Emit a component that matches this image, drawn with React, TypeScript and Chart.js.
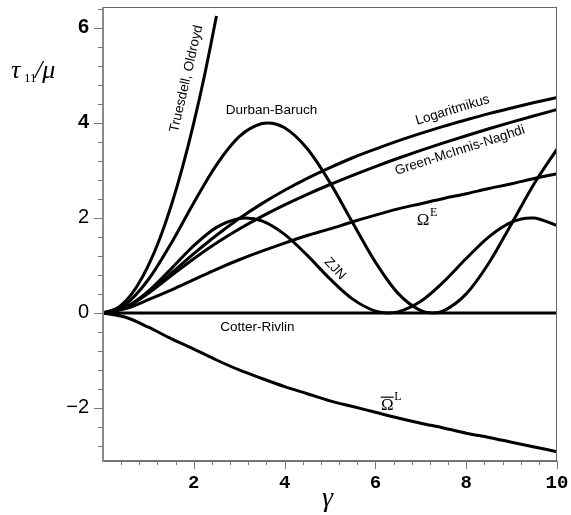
import React, { useEffect, useRef } from 'react';
import { Chart, registerables } from 'chart.js';

Chart.register(...registerables);

// ---- data ----
const gammaHalf = [0, 0.5, 1, 1.5, 2, 2.5, 3, 3.5, 4, 4.5, 5, 5.5, 6, 6.5, 7, 7.5, 8, 8.5, 9, 9.5, 10];
const logValues = [0, 0.12, 0.43, 0.832, 1.247, 1.636, 1.988, 2.301, 2.582, 2.833, 3.059, 3.267, 3.45, 3.622, 3.78, 3.928, 4.064, 4.195, 4.315, 4.429, 4.535];
const gmnValues = [0, 0.119, 0.416, 0.781, 1.142, 1.471, 1.766, 2.032, 2.274, 2.497, 2.704, 2.898, 3.082, 3.256, 3.421, 3.579, 3.731, 3.877, 4.016, 4.151, 4.282];
const omegaEValues = [0, 0.09, 0.28, 0.48, 0.7, 0.92, 1.12, 1.3, 1.47, 1.63, 1.77, 1.92, 2.06, 2.19, 2.3, 2.41, 2.51, 2.62, 2.72, 2.83, 2.93];
const omegaLValues = [0, -0.09, -0.3, -0.54, -0.76, -0.99, -1.2, -1.38, -1.55, -1.7, -1.85, -1.97, -2.09, -2.21, -2.32, -2.42, -2.53, -2.62, -2.72, -2.82, -2.92];

const truesdellGamma = [0, 0.25, 0.5, 0.75, 1, 1.25, 1.5, 1.75, 2, 2.25, 2.5];
const truesdellValues = [0, 0.0625, 0.25, 0.5625, 1, 1.5625, 2.25, 3.0625, 4, 5.0625, 6.25];

const zjnGamma = [0, 0.5, 1, 1.5, 2, 2.5, 3, 3.14, 3.5, 4, 4.5, 5, 5.5, 6, 6.28, 6.5, 7, 7.5, 8, 8.5, 9, 9.42, 9.5, 10];
const zjnValues = [0, 0.122, 0.46, 0.929, 1.416, 1.801, 1.99, 2.0, 1.937, 1.654, 1.211, 0.716, 0.291, 0.04, 0, 0.023, 0.246, 0.653, 1.146, 1.602, 1.911, 2.0, 1.997, 1.839];

const dbGamma = [0, 0.5, 1, 1.5, 2, 2.5, 3, 3.5, 3.63, 4, 4.5, 5, 5.5, 6, 6.5, 7, 7.26, 7.5, 8, 8.5, 9, 9.5, 10];
const dbValues = [0, 0.185, 0.704, 1.463, 2.321, 3.119, 3.713, 3.988, 4.0, 3.897, 3.455, 2.744, 1.898, 1.069, 0.412, 0.049, 0, 0.045, 0.402, 1.052, 1.88, 2.724, 3.447];

const cotterGamma = [0, 10];
const cotterValues = [0, 0];

const xTickValues = [2, 4, 6, 8, 10];
const yTickValues = [-2, 0, 2, 4, 6];

const curveLabels = [
  { text: 'Truesdell, Oldroyd', g: 1.84, v: 4.93, angle: -77 },
  { text: 'Durban-Baruch', g: 3.71, v: 4.26, angle: 0 },
  { text: 'Logaritmikus', g: 7.7, v: 4.27, angle: -17 },
  { text: 'Green-McInnis-Naghdi', g: 7.86, v: 3.42, angle: -18 },
  { text: 'ZJN', g: 5.11, v: 0.93, angle: 47 },
  { text: 'Cotter-Rivlin', g: 3.4, v: -0.3, angle: 0 },
];

const pts = (xs: number[], ys: number[]) => xs.map((x, i) => ({ x, y: ys[i] }));

const decorPlugin = {
  id: 'decor',
  afterDraw(chart: any) {
    const { ctx, chartArea: a } = chart;
    const xs = chart.scales.x;
    const ys = chart.scales.y;
    ctx.save();
    // frame
    ctx.lineWidth = 1;
    ctx.strokeStyle = '#666';
    ctx.beginPath();
    ctx.moveTo(a.left, a.top + 0.5);
    ctx.lineTo(a.right, a.top + 0.5);
    ctx.moveTo(a.right - 0.5, a.top);
    ctx.lineTo(a.right - 0.5, a.bottom);
    ctx.stroke();
    ctx.strokeStyle = '#444';
    ctx.lineWidth = 1.5;
    ctx.beginPath();
    ctx.moveTo(a.left, a.bottom);
    ctx.lineTo(a.right, a.bottom);
    ctx.stroke();
    ctx.strokeStyle = '#8a8a8a';
    ctx.lineWidth = 2;
    ctx.beginPath();
    ctx.moveTo(a.left, a.top);
    ctx.lineTo(a.left, a.bottom + 1);
    ctx.stroke();

    // tick marks
    ctx.strokeStyle = '#777';
    ctx.lineWidth = 1;
    ctx.beginPath();
    for (let k = -7; k <= 16; k++) {
      const py = Math.round(ys.getPixelForValue(k * 0.4)) + 0.5;
      const len = k % 5 === 0 ? 9 : 5;
      ctx.moveTo(a.left - len, py);
      ctx.lineTo(a.left, py);
    }
    for (let k = 1; k <= 25; k++) {
      const px = Math.round(xs.getPixelForValue(k * 0.4)) + 0.5;
      const len = k % 5 === 0 ? 8 : 4;
      ctx.moveTo(px, a.bottom);
      ctx.lineTo(px, a.bottom + len);
    }
    ctx.stroke();

    // curve labels
    ctx.fillStyle = '#000';
    for (const L of curveLabels) {
      const px = xs.getPixelForValue(L.g);
      const py = ys.getPixelForValue(L.v);
      ctx.save();
      ctx.translate(px, py);
      ctx.rotate((L.angle * Math.PI) / 180);
      ctx.font = '13.5px "Liberation Sans", Arial, sans-serif';
      ctx.textAlign = 'center';
      ctx.textBaseline = 'middle';
      ctx.fillText(L.text, 0, 0);
      ctx.restore();
    }

    // Omega^E
    {
      const px = xs.getPixelForValue(7.05);
      const py = ys.getPixelForValue(1.98);
      ctx.font = '17px "Liberation Serif", "DejaVu Serif", serif';
      ctx.textAlign = 'center';
      ctx.textBaseline = 'alphabetic';
      ctx.fillText('\u03A9', px, py + 6);
      ctx.font = '12px "Liberation Serif", "DejaVu Serif", serif';
      ctx.textAlign = 'left';
      ctx.fillText('E', px + 7, py - 2.5);
    }
    // Omega-bar^L
    {
      const px = xs.getPixelForValue(6.26);
      const py = ys.getPixelForValue(-1.92);
      ctx.font = '17px "Liberation Serif", "DejaVu Serif", serif';
      ctx.textAlign = 'center';
      ctx.textBaseline = 'alphabetic';
      ctx.fillText('\u03A9', px, py + 6);
      ctx.lineWidth = 1.2;
      ctx.strokeStyle = '#000';
      ctx.beginPath();
      ctx.moveTo(px - 6.5, py - 7);
      ctx.lineTo(px + 6.5, py - 7);
      ctx.stroke();
      ctx.font = '12px "Liberation Serif", "DejaVu Serif", serif';
      ctx.textAlign = 'left';
      ctx.fillText('L', px + 7, py - 4);
    }

    // axis titles
    ctx.textAlign = 'left';
    ctx.textBaseline = 'alphabetic';
    ctx.font = 'italic 26px "Liberation Serif", "DejaVu Serif", serif';
    ctx.fillText('\u03C4', 11, 78);
    ctx.font = '13px "Liberation Serif", "DejaVu Serif", serif';
    ctx.fillText('11', 24, 82);
    ctx.font = 'italic 26px "Liberation Serif", "DejaVu Serif", serif';
    ctx.fillText('/\u03BC', 35, 78);
    ctx.font = 'italic 28px "Liberation Serif", "DejaVu Serif", serif';
    ctx.fillText('\u03B3', 322, 506);
    ctx.restore();
  },
};

export default function App() {
  const ref = useRef<HTMLCanvasElement | null>(null);
  useEffect(() => {
    if (!ref.current) return;
    const line = (xs: number[], ys: number[]) => ({
      data: pts(xs, ys),
      borderColor: '#000',
      borderWidth: 3,
      pointRadius: 0,
      fill: false,
      cubicInterpolationMode: 'monotone' as const,
    });
    const chart = new Chart(ref.current, {
      type: 'line',
      data: {
        datasets: [
          { label: 'Truesdell, Oldroyd', ...line(truesdellGamma, truesdellValues) },
          { label: 'Durban-Baruch', ...line(dbGamma, dbValues) },
          { label: 'Logaritmikus', ...line(gammaHalf, logValues) },
          { label: 'Green-McInnis-Naghdi', ...line(gammaHalf, gmnValues) },
          { label: 'ΩE', ...line(gammaHalf, omegaEValues) },
          { label: 'ZJN', ...line(zjnGamma, zjnValues) },
          { label: 'Cotter-Rivlin', ...line(cotterGamma, cotterValues) },
          { label: 'ΩL', ...line(gammaHalf, omegaLValues) },
        ],
      },
      options: {
        animation: false,
        responsive: false,
        maintainAspectRatio: false,
        devicePixelRatio: 1,
        layout: { padding: { left: 0, top: 7, right: 14, bottom: 0 } },
        plugins: { legend: { display: false }, tooltip: { enabled: false } },
        scales: {
          x: {
            type: 'linear',
            min: 0,
            max: 10,
            grid: { display: false, drawTicks: false },
            border: { display: false },
            afterBuildTicks: (s: any) => {
              s.ticks = xTickValues.map((value) => ({ value }));
            },
            afterFit: (s: any) => {
              s.height = 54;
              s.paddingLeft = 0;
              s.paddingRight = 0;
            },
            ticks: {
              maxRotation: 0,
              autoSkip: false,
              padding: 11,
              color: '#000',
              font: { family: '"Liberation Mono", "Courier New", monospace', size: 19, weight: 'bold' },
              callback: (v: any) => String(v),
            },
          },
          y: {
            type: 'linear',
            min: -3.116,
            max: 6.44,
            grid: { display: false, drawTicks: false },
            border: { display: false },
            afterBuildTicks: (s: any) => {
              s.ticks = yTickValues.map((value) => ({ value }));
            },
            afterFit: (s: any) => {
              s.width = 103;
              s.paddingTop = 0;
              s.paddingBottom = 0;
            },
            ticks: {
              autoSkip: false,
              padding: 14,
              color: '#000',
              font: (c: any) => ({
                family: '"Liberation Sans", Arial, sans-serif',
                size: 20,
                weight: c.tick && c.tick.value >= 4 ? 'bold' : 'normal',
              }),
              callback: (v: any) => (v < 0 ? '\u2212' + Math.abs(v) : String(v)),
            },
          },
        },
      },
      plugins: [decorPlugin],
    });
    return () => chart.destroy();
  }, []);
  return (
    <div style={{ position: 'fixed', left: 0, top: 0, width: 571, height: 515, background: '#fff' }}>
      <canvas ref={ref} width={571} height={515} style={{ display: 'block', width: 571, height: 515 }} />
    </div>
  );
}
